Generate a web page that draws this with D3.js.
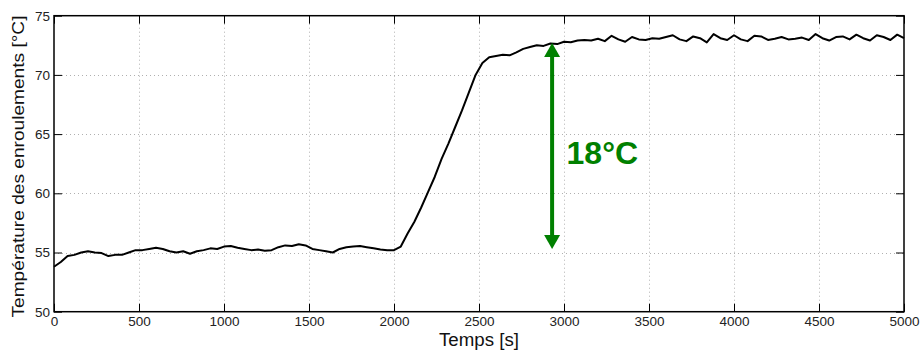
<!DOCTYPE html>
<html>
<head>
<meta charset="utf-8">
<script src="https://cdn.jsdelivr.net/npm/d3@7"></script>
<style>
  html, body { margin: 0; padding: 0; background: #fff; }
  svg { display: block; }
  text { font-family: "Liberation Sans", Arial, Helvetica, sans-serif; }
</style>
</head>
<body>
<svg id="chart" width="923" height="356"></svg>
<script>
// ---- data ----
const timeStart = 0, timeStep = 40; // s
const temperature = [
  53.8, 54.2, 54.7, 54.8, 55.0, 55.1, 55.0, 54.95, 54.7, 54.8,
  54.8, 55.0, 55.2, 55.2, 55.3, 55.4, 55.3, 55.1, 55.0, 55.1,
  54.9, 55.1, 55.2, 55.35, 55.3, 55.5, 55.55, 55.4, 55.3, 55.2,
  55.25, 55.15, 55.2, 55.45, 55.6, 55.55, 55.7, 55.6, 55.3, 55.2,
  55.1, 55.0, 55.3, 55.45, 55.5, 55.55, 55.45, 55.35, 55.25, 55.2,
  55.2, 55.5, 56.6, 57.6, 58.8, 60.1, 61.4, 62.9, 64.2, 65.6,
  67.0, 68.5, 70.0, 71.0, 71.5, 71.6, 71.7, 71.65, 71.9, 72.2,
  72.35, 72.5, 72.45, 72.65, 72.6, 72.8, 72.75, 72.9, 72.95, 72.9,
  73.05, 72.85, 73.3, 73.0, 72.8, 73.2, 73.0, 72.95, 73.1, 73.05,
  73.2, 73.35, 73.0, 72.85, 73.25, 73.1, 72.75, 73.45, 73.1, 72.95,
  73.35, 73.0, 72.85, 73.3, 73.25, 72.95, 73.05, 73.2, 73.0, 73.05,
  73.15, 72.95, 73.45, 73.1, 72.9, 73.2, 73.25, 73.0, 73.4, 73.1,
  72.9, 73.35, 73.2, 72.95, 73.4, 73.1
];
const times = temperature.map((_, i) => timeStart + i * timeStep);
const xTicks = [0, 500, 1000, 1500, 2000, 2500, 3000, 3500, 4000, 4500, 5000];
const yTicks = [50, 55, 60, 65, 70, 75];
const xDomain = [0, 5000];
const yDomain = [50, 75];
const arrowTime = 2930;
const arrowFrom = 72.7, arrowTo = 55.3;
const annotation = "18°C";
const annotationPos = [3015, 62.5];
const xLabel = "Temps [s]";
const yLabel = "Température des enroulements [°C]";

// ---- layout ----
const svg = d3.select("#chart");
const pL = 54, pR = 904, pT = 15.7, pB = 311.7;
const x = d3.scaleLinear().domain(xDomain).range([pL, pR]);
const y = d3.scaleLinear().domain(yDomain).range([pB, pT]);
const green = "#008000";
const fmt = d3.format("d");

// grid
const grid = svg.append("g").attr("stroke", "#b0b0b0").attr("stroke-width", 1)
  .attr("stroke-dasharray", "1,3");
grid.selectAll(".gx").data(xTicks.slice(1, -1)).join("line")
  .attr("x1", d => Math.round(x(d)) + 0.5).attr("x2", d => Math.round(x(d)) + 0.5)
  .attr("y1", pT).attr("y2", pB);
grid.selectAll(".gy").data(yTicks.slice(1, -1)).join("line")
  .attr("y1", d => Math.round(y(d)) + 0.5).attr("y2", d => Math.round(y(d)) + 0.5)
  .attr("x1", pL).attr("x2", pR);

// axes (ticks inside, on all four sides)
const tickLen = 8;
const fs = 13.5;
const axB = svg.append("g").attr("transform", `translate(0,${pB})`)
  .call(d3.axisBottom(x).tickValues(xTicks).tickFormat(fmt).tickSizeInner(-tickLen).tickSizeOuter(0).tickPadding(5));
const axT = svg.append("g").attr("transform", `translate(0,${pT})`)
  .call(d3.axisTop(x).tickValues(xTicks).tickSizeInner(-tickLen).tickSizeOuter(0).tickFormat(""));
const axL = svg.append("g").attr("transform", `translate(${pL},0)`)
  .call(d3.axisLeft(y).tickValues(yTicks).tickFormat(fmt).tickSizeInner(-tickLen).tickSizeOuter(0).tickPadding(4));
const axR = svg.append("g").attr("transform", `translate(${pR},0)`)
  .call(d3.axisRight(y).tickValues(yTicks).tickSizeInner(-tickLen).tickSizeOuter(0).tickFormat(""));
[axB, axT, axL, axR].forEach(a => {
  a.select(".domain").remove();
  a.selectAll(".tick line").attr("stroke", "#000").attr("stroke-width", 1);
  a.selectAll("text").attr("font-size", fs).attr("fill", "#222")
    .style("font-family", '"Liberation Sans", Arial, sans-serif');
});

// box
svg.append("rect").attr("x", pL).attr("y", pT)
  .attr("width", pR - pL).attr("height", pB - pT)
  .attr("fill", "none").attr("stroke", "#000").attr("stroke-width", 1.5);

// curve
const line = d3.line().x((d, i) => x(times[i])).y(d => y(d));
svg.append("path").datum(temperature).attr("d", line)
  .attr("fill", "none").attr("stroke", "#000").attr("stroke-width", 2)
  .attr("stroke-linejoin", "round");

// arrow
const ax = x(arrowTime), ay1 = y(arrowFrom), ay2 = y(arrowTo);
const hw = 8, hl = 14;
svg.append("line").attr("x1", ax).attr("x2", ax).attr("y1", ay1 + hl - 2).attr("y2", ay2 - hl + 2)
  .attr("stroke", green).attr("stroke-width", 4);
svg.append("path").attr("fill", green)
  .attr("d", `M${ax},${ay1} L${ax - hw},${ay1 + hl} L${ax + hw},${ay1 + hl} Z`);
svg.append("path").attr("fill", green)
  .attr("d", `M${ax},${ay2} L${ax - hw},${ay2 - hl} L${ax + hw},${ay2 - hl} Z`);

// annotation
svg.append("text").attr("x", x(annotationPos[0])).attr("y", y(annotationPos[1]))
  .attr("font-size", 32).attr("font-weight", "bold").attr("fill", green)
  .text(annotation);

// axis labels
svg.append("text").attr("x", (pL + pR) / 2).attr("y", 346)
  .attr("text-anchor", "middle").attr("font-size", 18).attr("fill", "#111")
  .attr("textLength", 80).attr("lengthAdjust", "spacingAndGlyphs")
  .text(xLabel);
svg.append("text").attr("transform", `translate(24,${(15 + 318) / 2}) rotate(-90)`)
  .attr("text-anchor", "middle").attr("font-size", 17).attr("fill", "#111")
  .attr("textLength", 302).attr("lengthAdjust", "spacingAndGlyphs")
  .text(yLabel);
</script>
</body>
</html>
